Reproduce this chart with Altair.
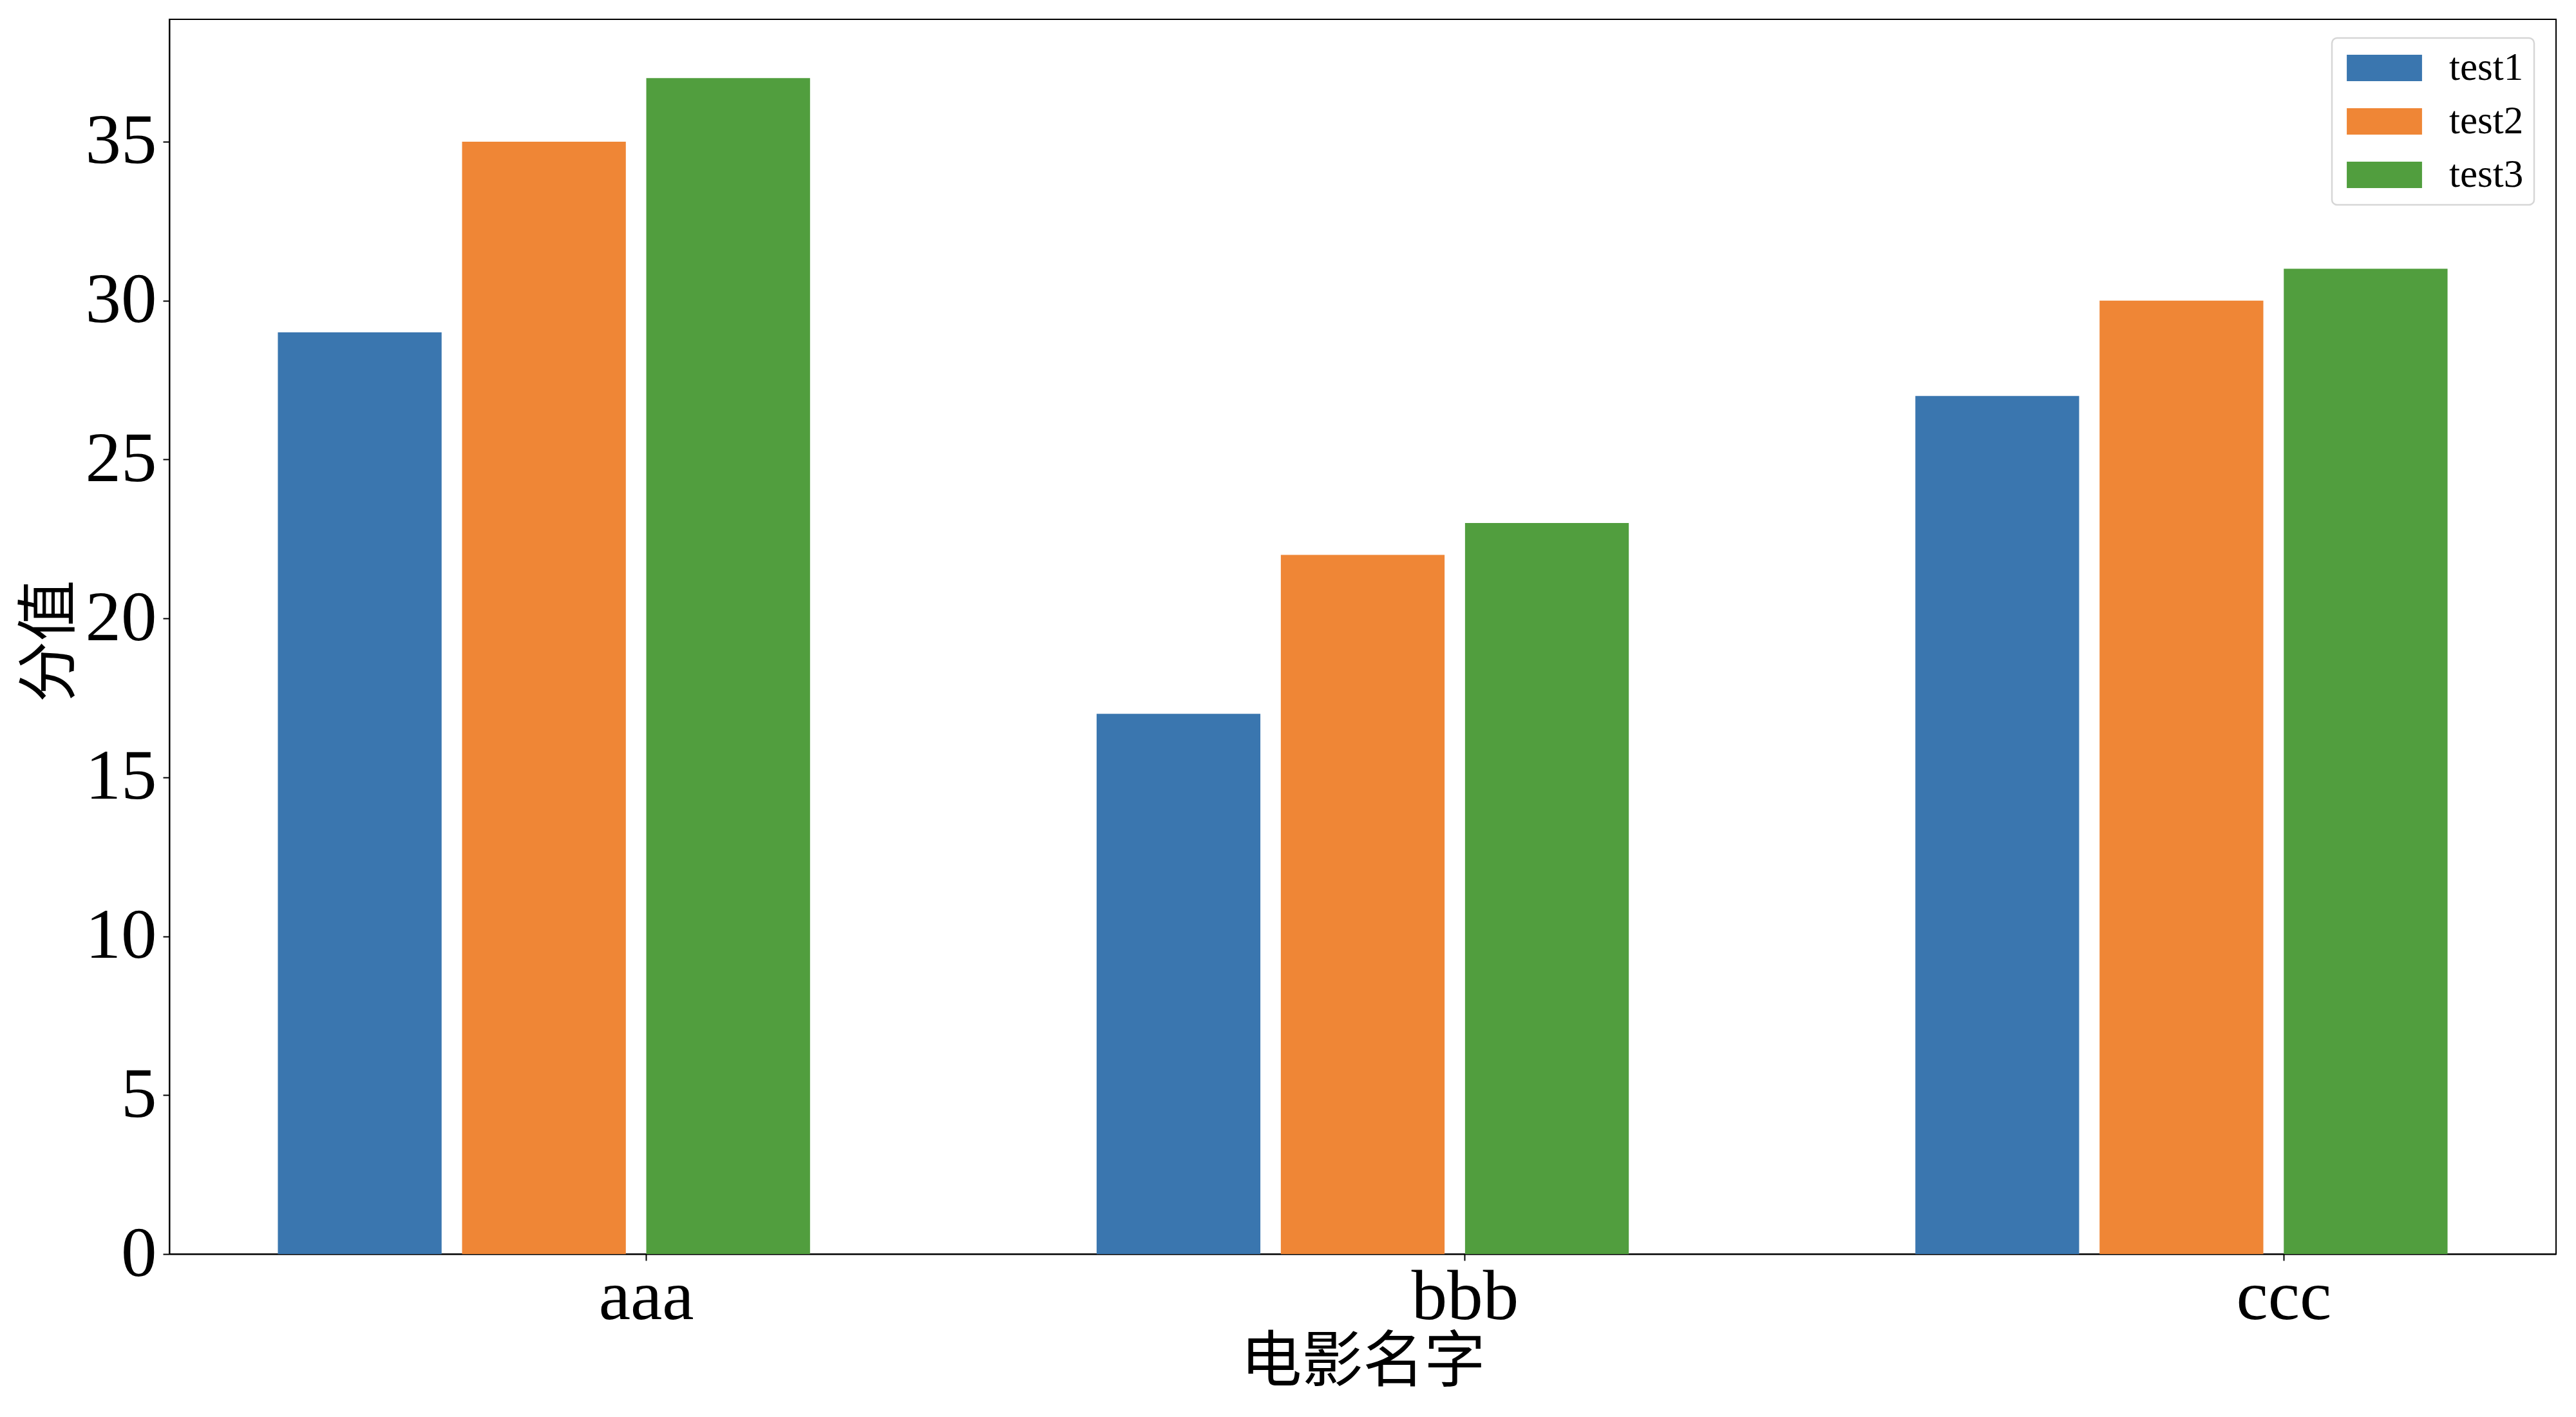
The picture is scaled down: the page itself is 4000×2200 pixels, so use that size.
import altair as alt
import pandas as pd

movies = ["aaa", "bbb", "ccc"]
series = ["test1", "test2", "test3"]
test1 = [29, 17, 27]
test2 = [35, 22, 30]
test3 = [37, 23, 31]
colors = ["#3A76AF", "#EF8636", "#519E3E"]
y_ticks = [0, 5, 10, 15, 20, 25, 30, 35]

rows = []
for s, vals in zip(series, [test1, test2, test3]):
    for m, v in zip(movies, vals):
        rows.append({"movie": m, "series": s, "score": v})
df = pd.DataFrame(rows)

W, H = 3706, 1917
SERIF = "Liberation Serif"
CJK = "Noto Sans CJK SC"

chart = alt.Chart(df).mark_bar(opacity=1, strokeWidth=0).encode(
    x=alt.X(
        "movie:N",
        sort=movies,
        scale=alt.Scale(paddingInner=0.35, paddingOuter=0.1325),
        axis=alt.Axis(
            title="电影名字",
            labelAngle=0,
            bandPosition=0.6923,
            labelOffset=159,
            labelBaseline="top",
            labelPadding=2,
            titleFont=CJK,
            titleFontSize=95,
            titleFontWeight="normal",
            titleBaseline="middle",
            titleY=168,
            titleX=W / 2,
            titleAnchor="middle",
        ),
    ),
    xOffset=alt.XOffset(
        "series:N",
        sort=series,
        scale=alt.Scale(paddingInner=0.111, paddingOuter=0),
    ),
    y=alt.Y(
        "score:Q",
        scale=alt.Scale(domain=[0, 38.85], nice=False, zero=True),
        axis=alt.Axis(
            values=y_ticks,
            title="分值",
            labelPadding=10,
            titleFont=CJK,
            titleFontSize=95,
            titleFontWeight="normal",
            titleAngle=270,
            titleBaseline="middle",
            titleAlign="center",
            titleX=-185,
            titleY=965,
        ),
    ),
    color=alt.Color(
        "series:N",
        sort=series,
        scale=alt.Scale(domain=series, range=colors),
        legend=alt.Legend(
            title=None,
            orient="none",
            legendX=3358,
            legendY=29,
        ),
    ),
).properties(
    width=W,
    height=H,
    autosize=alt.AutoSizeParams(type="none"),
    padding={"left": 255, "top": 22, "right": 23, "bottom": 245},
).configure_view(
    stroke="black",
    strokeWidth=2,
).configure_axis(
    grid=False,
    domainColor="black",
    domainWidth=2,
    tickColor="black",
    tickWidth=2,
    tickSize=10,
    labelFont=SERIF,
    labelFontSize=111,
    labelColor="black",
    titleColor="black",
).configure_legend(
    labelFont=SERIF,
    labelFontSize=61,
    labelColor="black",
    symbolType="M-2.85,-1L2.85,-1L2.85,1L-2.85,1Z",
    symbolSize=1681,
    symbolStrokeWidth=0,
    symbolOpacity=1,
    symbolOffset=35,
    labelOffset=70,
    rowPadding=21,
    padding=16,
    strokeColor="#d6d6d6",
    strokeWidth=2.5,
    fillColor="white",
    cornerRadius=8,
    labelLimit=400,
)

chart.save("out.html", embed_options={"renderer": "svg", "actions": False})
